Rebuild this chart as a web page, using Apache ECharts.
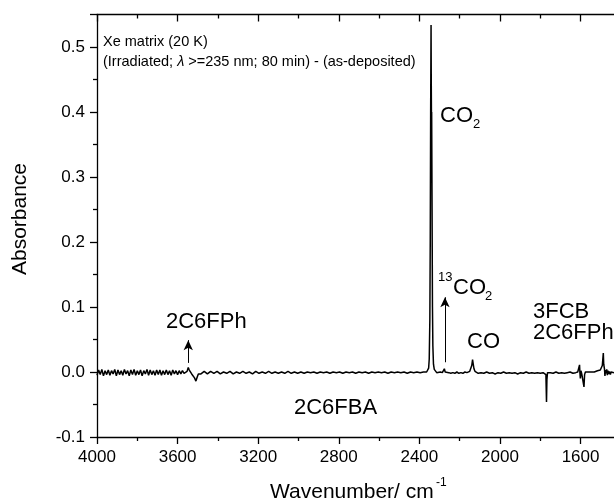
<!DOCTYPE html>
<html>
<head>
<meta charset="utf-8">
<script src="https://cdn.jsdelivr.net/npm/echarts@6/dist/echarts.min.js"></script>
<style>html,body{margin:0;padding:0;background:#fff;}#c{width:614px;height:503px;}</style>
</head>
<body>
<div id="c"></div>
<script>
// Wavenumber (cm-1) and absorbance
const wavenumber = [
4000,3992,3984,3976,3968,3960,3952,3944,3936,3928,3920,3912,3904,3896,3888,3880,3872,3864,3856,3848,
3840,3832,3824,3816,3808,3800,3792,3784,3776,3768,3760,3752,3744,3736,3728,3720,3712,3704,3696,3688,
3680,3672,3664,3656,3648,3640,3632,3624,3616,3608,3600,3592,3584,3576,3568,3560,
3553,3547,3542,3536,3530,3524,3516,3509,3503,3497,3491,
3484,3468,3452,3436,3420,3404,3388,3372,3356,3340,3324,3308,3292,3276,3260,3244,3228,3212,3196,3180,
3164,3148,3132,3116,3100,3084,3068,3052,3036,3020,3004,2988,2972,2956,2940,2924,2908,2892,2876,2860,
2844,2828,2812,2796,2780,2764,2748,2732,2716,2700,2684,2668,2652,2636,2620,2604,2588,2572,2556,2540,
2524,2508,2492,2476,2460,2444,2428,2412,2396,2380,
2372,2364,2358,2354,2351,2348,2346,2344,2342,2341,2340,2339,2337,2335,2333,2330,2326,2320,2314,
2306,2296,2286,2280,2276,2272,2264,2254,2244,2234,2224,2214,2204,2194,2184,2174,2164,2156,2150,
2145,2140,2136,2133,2129,2124,2118,
2108,2094,2080,2066,2052,2038,2024,2010,1996,1982,1968,1954,1940,1926,1912,1898,1884,1870,1856,1842,1828,1814,1800,1786,
1778,1772,1769,1767,1764,1760,
1750,1736,1722,1708,1694,1680,1666,1652,1638,1624,
1614,1609,1605,1603,1601,1598,1594,1590,1586,1583,1580,1576,1570,
1564,1556,1548,1540,1532,1524,1516,1508,1502,
1496,1492,1489,1487,1485,1483,1481,1479,1476,1473,1470,1467,1464,1460,1456,1452,1448,1444,1440,1434
];
const absorbance = [
-0.005,0.003,-0.004,0.004,-0.006,0.002,-0.004,0.003,-0.005,0.002,
-0.003,0.004,-0.006,0.003,-0.004,0.002,-0.005,0.004,-0.003,0.002,
-0.006,0.003,-0.004,0.004,-0.005,0.002,-0.004,0.003,-0.006,0.002,
-0.003,0.004,-0.005,0.003,-0.004,0.002,-0.005,0.003,-0.004,0.003,
-0.005,0.002,-0.004,0.003,-0.004,0.002,-0.005,0.003,-0.003,0.002,
-0.004,0.002,-0.003,0.002,-0.002,0.001,
0.001,0.007,0.003,0.000,-0.003,-0.005,-0.009,-0.014,-0.008,-0.003,0.000,
-0.003,0.001,-0.003,0.001,-0.002,0.001,-0.003,0.000,-0.002,0.001,
-0.003,0.000,-0.002,0.001,-0.002,0.000,-0.003,0.001,-0.002,0.000,
-0.002,0.001,-0.002,0.000,-0.002,0.000,-0.002,0.001,-0.002,0.000,
-0.002,0.000,-0.002,0.000,-0.001,0.000,-0.002,0.000,-0.001,0.000,
-0.002,0.000,-0.001,0.000,-0.002,0.000,-0.001,0.000,-0.002,0.000,
-0.001,0.000,-0.002,0.000,-0.001,0.000,-0.001,0.000,-0.002,0.000,
-0.001,0.000,-0.001,0.000,-0.002,0.000,-0.001,0.000,-0.001,0.000,
-0.001,0.000,0.002,0.006,0.020,0.080,0.200,0.400,0.534,0.450,0.390,0.400,0.250,0.100,0.040,0.012,0.004,0.001,-0.001,
-0.002,0.000,-0.001,0.001,0.005,0.000,-0.002,-0.001,-0.002,-0.001,-0.002,0.000,-0.002,-0.001,-0.002,0.000,-0.001,0.000,0.001,
0.004,0.010,0.019,0.013,0.005,0.001,-0.001,
-0.002,-0.001,-0.002,0.000,-0.002,-0.001,-0.003,-0.001,-0.002,0.000,-0.002,-0.001,-0.002,-0.001,-0.003,-0.001,-0.002,0.000,-0.002,-0.001,-0.002,-0.001,-0.002,-0.001,
-0.002,-0.004,-0.046,-0.012,-0.001,-0.002,
-0.001,-0.002,0.000,-0.002,-0.001,-0.002,-0.001,0.000,-0.002,-0.001,
0.000,0.003,0.011,-0.002,-0.010,0.002,-0.003,0.000,-0.004,-0.023,-0.004,0.000,-0.001,
0.000,-0.001,0.000,0.001,0.000,0.001,0.002,0.001,0.003,
0.004,0.010,0.008,0.029,0.012,0.010,0.004,-0.006,0.003,-0.002,0.004,-0.005,0.002,-0.003,0.001,-0.004,0.000,-0.002,0.001,-0.001
];
// visible x range (reference is cut off at its right edge)
const xRange = {min: 1434, max: 4000};
const xMajorTicks = [4000, 3600, 3200, 2800, 2400, 2000, 1600];
const xMinorTicks = [3800, 3400, 3000, 2600, 2200, 1800];
const yTicks = {min: -0.1, max: 0.55, interval: 0.1};
// arrows: [wavenumber, from absorbance, to absorbance]
const arrows = [[3547, 0.014, 0.049], [2273, 0.015, 0.115]];

const FONT = 'Arial, "Liberation Sans", sans-serif';
const chart = echarts.init(document.getElementById('c'), null, {renderer: 'canvas'});
const seriesData = wavenumber.map((w, i) => [w, absorbance[i]]);

function txt(text, x, y, size, extra) {
  return {
    type: 'text', silent: true,
    style: Object.assign({text: text, x: x, y: y, font: size + 'px ' + FONT, fill: '#000',
      textAlign: 'left', textVerticalAlign: 'middle'}, extra || {})
  };
}

const axisLineStyle = {color: '#000', width: 1.3};
function xAx(pos, showLine, ticks, len, inside, labels) {
  return {
    type: 'value', inverse: true, min: xRange.min, max: xRange.max, position: pos,
    axisLine: {show: showLine, onZero: false, lineStyle: axisLineStyle},
    axisTick: {show: true, inside: inside, length: len, lineStyle: axisLineStyle, customValues: ticks},
    splitLine: {show: false},
    axisLabel: labels ? {show: true, customValues: ticks, fontSize: 17, color: '#000', fontFamily: FONT,
      margin: 12, formatter: v => String(v)} : {show: false}
  };
}
const option = {
  animation: false,
  backgroundColor: '#fff',
  grid: {left: 97, top: 14.5, bottom: 66, right: 0, containLabel: false},
  xAxis: [
    xAx('bottom', true, xMajorTicks, 7, false, true),
    xAx('bottom', false, xMinorTicks, 4, false, false),
    xAx('top', true, xMajorTicks, 7, true, false),
    xAx('top', false, xMinorTicks, 4, true, false)
  ],
  yAxis: [{
    type: 'value', min: yTicks.min, max: yTicks.max, interval: yTicks.interval,
    axisLine: {show: true, onZero: false, lineStyle: axisLineStyle},
    axisTick: {show: true, inside: false, length: 7, lineStyle: axisLineStyle},
    minorTick: {show: true, splitNumber: 2, length: 4, lineStyle: axisLineStyle},
    splitLine: {show: false},
    axisLabel: {fontSize: 17, color: '#000', fontFamily: FONT, margin: 12, showMaxLabel: false,
      formatter: v => v.toFixed(1)}
  }],
  series: [{
    type: 'line', xAxisIndex: 0, yAxisIndex: 0, data: seriesData, showSymbol: false, symbol: 'none',
    lineStyle: {color: '#000', width: 1.5}, silent: true,
    markLine: {
      silent: true, symbol: ['none', 'arrow'], symbolSize: [7, 10],
      lineStyle: {color: '#000', width: 1, type: 'solid'}, label: {show: false},
      data: arrows.map(a => [{coord: [a[0], a[1]]}, {coord: [a[0], a[2]]}])
    }
  }],
  graphic: [
    txt('Xe matrix (20 K)', 103, 42, 14.5),
    {type: 'text', silent: true, style: {
      text: '(Irradiated; {l|λ} >=235 nm; 80 min) - (as-deposited)', x: 103, y: 62,
      font: '14.5px ' + FONT, fill: '#000', textAlign: 'left', textVerticalAlign: 'middle',
      rich: {l: {fontStyle: 'italic', fontSize: 14.5, fontFamily: FONT}}
    }},
    txt('CO', 440, 116, 22), txt('2', 473, 124, 13),
    txt('13', 438, 277, 13), txt('CO', 453, 288, 22), txt('2', 485, 296, 13),
    txt('CO', 467, 342, 22),
    txt('3FCB', 533, 312, 22), txt('2C6FPh', 533, 333, 22),
    txt('2C6FPh', 166, 322, 22),
    txt('2C6FBA', 294, 408, 22),
    txt('Wavenumber/ cm', 270, 492, 21), txt('-1', 436, 483, 12),
    {type: 'text', silent: true, rotation: Math.PI / 2, x: 20, y: 219,
      style: {text: 'Absorbance', x: 0, y: 0, font: '21px ' + FONT, fill: '#000',
        textAlign: 'center', textVerticalAlign: 'middle'}}
  ]
};
chart.setOption(option);
</script>
</body>
</html>
